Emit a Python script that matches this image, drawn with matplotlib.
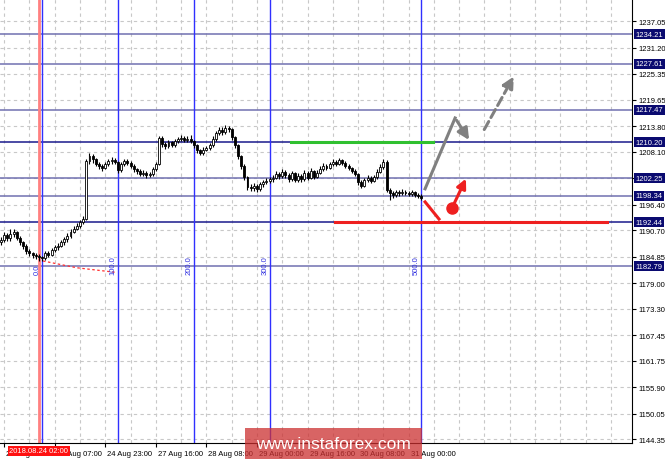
import matplotlib
matplotlib.use("Agg")
import matplotlib.pyplot as plt
from matplotlib.patches import Rectangle, FancyArrowPatch
from matplotlib.transforms import ScaledTranslation

plt.rcParams["font.family"] = ["Liberation Sans", "DejaVu Sans"]

# H1 candles, 23 Aug - 31 Aug 2018
closes = [1188.5, 1189.6, 1188.9, 1189.9, 1190.3, 1189.0, 1188.0, 1187.2, 1186.1, 1185.6,
          1185.3, 1185.1, 1184.7, 1184.5, 1185.7, 1185.3, 1186.4, 1186.9, 1187.3, 1188.0,
          1188.7, 1189.4, 1190.4, 1191.1, 1191.7, 1192.5, 1193.3, 1206.0, 1207.2, 1206.4,
          1205.5, 1205.0, 1204.6, 1205.3, 1206.0, 1206.3, 1205.8, 1204.0, 1205.3, 1206.1,
          1205.6, 1205.0, 1204.2, 1203.8, 1203.2, 1203.5, 1202.9, 1203.1, 1204.2, 1205.4,
          1211.2, 1209.8, 1209.3, 1210.2, 1209.6, 1210.4, 1210.9, 1211.2, 1210.7, 1211.0,
          1210.5, 1209.5, 1208.4, 1207.8, 1208.6, 1208.9, 1209.6, 1211.0, 1212.2, 1213.0,
          1212.5, 1213.4, 1213.1, 1211.3, 1209.5, 1207.2, 1205.0, 1202.5, 1200.3, 1200.0,
          1200.6, 1199.8, 1200.9, 1201.3, 1201.6, 1202.0, 1202.4, 1203.2, 1202.7, 1203.6,
          1203.0, 1202.1, 1203.3, 1201.9, 1202.8, 1202.0, 1203.5, 1202.4, 1203.8, 1202.6,
          1203.5, 1204.3, 1205.0, 1204.6, 1205.4, 1205.9, 1205.5, 1206.2, 1205.7, 1205.0,
          1204.5, 1203.9, 1203.2, 1201.4, 1200.6, 1201.8, 1202.4, 1201.7, 1202.5, 1203.7,
          1204.8, 1205.8, 1199.6, 1199.0, 1198.5, 1199.2, 1198.9, 1199.3, 1199.0, 1198.8,
          1199.1, 1198.6, 1198.4, 1197.9]
opens = [1188.0] + closes[:-1]
highs = [1189.2, 1190.4, 1190.0, 1191.0, 1190.9, 1190.6, 1189.4, 1188.4, 1187.6, 1186.5,
         1186.0, 1185.7, 1185.5, 1185.0, 1186.1, 1186.2, 1186.8, 1187.4, 1187.9, 1188.5,
         1189.2, 1190.0, 1190.9, 1191.6, 1192.3, 1193.0, 1193.9, 1206.6, 1207.9, 1207.6,
         1206.8, 1205.9, 1205.4, 1205.8, 1206.5, 1206.9, 1206.7, 1206.1, 1205.8, 1206.6,
         1206.5, 1206.0, 1205.4, 1204.6, 1204.2, 1204.0, 1203.9, 1203.6, 1204.7, 1205.9,
         1211.7, 1211.5, 1210.3, 1210.7, 1210.6, 1210.9, 1211.4, 1211.8, 1211.5, 1211.6,
         1211.9, 1210.8, 1209.8, 1208.8, 1209.1, 1209.4, 1210.1, 1211.5, 1212.8, 1213.6,
         1213.5, 1214.1, 1213.9, 1213.4, 1211.6, 1209.8, 1207.5, 1205.3, 1202.8, 1200.9,
         1201.1, 1201.0, 1201.4, 1201.8, 1202.2, 1202.6, 1203.0, 1203.8, 1203.6, 1204.2,
         1204.0, 1203.4, 1203.8, 1203.6, 1203.3, 1203.2, 1204.0, 1203.9, 1204.6, 1204.1,
         1204.0, 1204.9, 1205.6, 1205.4, 1205.9, 1206.4, 1206.3, 1206.7, 1206.5, 1206.0,
         1205.4, 1204.8, 1204.3, 1203.5, 1201.8, 1202.3, 1202.9, 1202.8, 1203.0, 1204.2,
         1205.4, 1206.6, 1206.2, 1200.0, 1199.4, 1199.7, 1199.6, 1199.8, 1199.7, 1199.4,
         1199.6, 1199.4, 1199.0, 1198.7]
lows = [1187.4, 1188.1, 1188.3, 1188.4, 1189.3, 1188.5, 1187.5, 1186.6, 1185.5, 1184.9,
        1184.6, 1184.3, 1184.0, 1183.8, 1184.2, 1184.8, 1185.0, 1185.9, 1186.4, 1186.9,
        1187.5, 1188.2, 1189.0, 1190.0, 1190.7, 1191.3, 1192.1, 1193.0, 1205.4, 1205.7,
        1204.9, 1204.3, 1203.9, 1204.2, 1204.9, 1205.5, 1205.3, 1203.5, 1203.7, 1204.9,
        1205.1, 1204.5, 1203.7, 1203.2, 1202.7, 1202.8, 1202.4, 1202.5, 1202.8, 1203.9,
        1205.1, 1209.2, 1208.7, 1208.9, 1209.1, 1209.2, 1210.0, 1210.5, 1210.2, 1210.3,
        1210.1, 1209.0, 1207.9, 1207.3, 1207.4, 1208.2, 1208.5, 1209.2, 1210.6, 1211.8,
        1211.9, 1212.1, 1212.5, 1210.8, 1209.0, 1206.6, 1204.4, 1201.9, 1199.6, 1199.4,
        1199.5, 1199.3, 1199.5, 1200.4, 1200.9, 1201.2, 1201.5, 1202.0, 1202.1, 1202.3,
        1202.4, 1201.5, 1201.7, 1201.3, 1201.4, 1201.5, 1201.6, 1201.9, 1202.0, 1202.1,
        1202.2, 1203.1, 1203.9, 1204.1, 1204.2, 1205.0, 1205.0, 1205.1, 1205.2, 1204.5,
        1204.0, 1203.4, 1202.7, 1200.8, 1200.0, 1200.3, 1201.3, 1201.2, 1201.3, 1202.1,
        1203.3, 1204.4, 1199.1, 1197.4, 1197.9, 1198.1, 1198.4, 1198.5, 1198.5, 1198.3,
        1198.4, 1198.1, 1197.9, 1197.4]

# price axis
tick_levels = [1237.05, 1231.20, 1225.35, 1219.65, 1213.80, 1208.10, 1202.25, 1196.40,
               1190.70, 1184.85, 1179.00, 1173.30, 1167.45, 1161.75, 1155.90, 1150.05, 1144.35]
# horizontal levels drawn on the chart
levels = [1234.21, 1227.61, 1217.47, 1210.20, 1202.25, 1198.34, 1192.44, 1182.79]
dark_levels = [1210.20, 1192.44]

# time axis
time_ticks = [1, 17, 33, 49, 65, 81, 97, 113, 129]
time_labels = ["23 Aug 15:00", "24 Aug 07:00", "24 Aug 23:00", "27 Aug 16:00", "28 Aug 08:00",
               "29 Aug 00:00", "29 Aug 16:00", "30 Aug 08:00", "31 Aug 00:00"]

# fibonacci time zones
fib_base = 13
fib_levels = [0, 100, 200, 300, 500]

FS = 5.5

fig = plt.figure(figsize=(6.65, 4.60), dpi=100)
fig.patch.set_facecolor("white")
ax = fig.add_axes([0, 16 / 460, 632 / 665, 444 / 460])
ax.set_xlim(-0.316, 199.68)
ax.set_ylim(1143.56, 1241.97)

# dashed grid
for gx in range(1, 200, 8):
    ax.axvline(gx, color="#c8c8c8", lw=0.8, ls=(0, (3, 3)), zorder=0)
for gy in tick_levels:
    ax.axhline(gy, color="#c8c8c8", lw=0.8, ls=(0, (3, 3)), zorder=0)

# levels
for lv in levels:
    col = "#1a1a8c" if lv in dark_levels else "#7070b0"
    ax.axhline(lv, color=col, lw=1.1, zorder=1)

# fib time zones
for lv in fib_levels:
    fx = fib_base + lv * 0.24
    ax.axvline(fx, color="#3030ff", lw=1.0, zorder=1)
    ax.text(fx - 0.4, 1181.0, "%.1f" % lv, rotation=90, ha="right", va="bottom",
            fontsize=FS, color="#3030e0")
ax.axvline(12.0, color="#ff8080", lw=2.0, zorder=1)

# red dashed line from the low
ax.plot([13.3, 24.0, 36.1], [1183.9, 1182.4, 1181.4], color="#ff3030", lw=0.9,
        ls=(0, (2, 2)), zorder=1)

# candles
idx = list(range(len(closes)))
ax.vlines(idx, lows, highs, color="black", lw=0.8, zorder=3)
for i in idx:
    o, c = opens[i], closes[i]
    h = max(abs(c - o), 0.12)
    fc = "white" if c >= o else "black"
    ax.bar(i, h, bottom=min(o, c), width=0.62, facecolor=fc, edgecolor="black",
           lw=0.6, zorder=4)

# green and red horizontal segments
ax.plot([91.8, 136.7], [1210.20, 1210.20], color="#30c030", lw=2.2, zorder=2)
ax.plot([105.7, 191.8], [1192.44, 1192.44], color="#ee2020", lw=2.2, zorder=2)

# scenario arrows
gray = "#808080"
ax.plot([134.2, 143.7], [1199.9, 1215.6], color=gray, lw=2.2, zorder=5)
ax.add_patch(FancyArrowPatch((143.7, 1215.6), (148.6, 1210.2), arrowstyle="-|>",
             mutation_scale=17, color=gray, lw=2.2, zorder=5))
ax.add_patch(FancyArrowPatch((152.5, 1212.5), (162.7, 1225.35), arrowstyle="-|>",
             mutation_scale=17, color=gray, lw=2.2, ls=(0, (3, 1.5)), zorder=5))
ax.plot([134.2, 138.6], [1197.0, 1193.2], color="#ee2020", lw=2.2, zorder=5)
ax.add_patch(FancyArrowPatch((142.7, 1195.6), (147.5, 1202.7), arrowstyle="-|>",
             mutation_scale=14, color="#ee2020", lw=2.2, zorder=5))
ax.plot([142.7], [1195.6], "o", color="#ee2020", ms=8, zorder=6)

# axes styling
for s in ["left", "top"]:
    ax.spines[s].set_visible(False)
ax.spines["right"].set_color("black")
ax.spines["bottom"].set_color("black")
ax.yaxis.tick_right()
ax.set_yticks(tick_levels)
ax.set_yticklabels(["" if t == 1202.25 else "%.2f" % t for t in tick_levels],
                   fontsize=FS, color="black")
ax.tick_params(axis="y", length=3, pad=1.5)
ax.set_xticks(time_ticks)
ax.set_xticklabels(time_labels, fontsize=FS, color="black", ha="left")
ax.tick_params(axis="x", length=3, pad=2)
off = ScaledTranslation(2 / 100, 0, fig.dpi_scale_trans)
for lab in ax.get_xticklabels():
    lab.set_transform(lab.get_transform() + off)

# highlighted price labels on the right
for lv in levels:
    ax.text(1.006, lv, "%.2f" % lv, transform=ax.get_yaxis_transform(), ha="left",
            va="center", fontsize=FS, color="white", zorder=10, clip_on=False,
            bbox=dict(boxstyle="square,pad=0.2", facecolor="#0a0a70", edgecolor="none"))

# red date box on the time axis
ax.text(12.0, -0.018, "2018.08.24 02:00", transform=ax.get_xaxis_transform(), ha="center",
        va="center", fontsize=FS, color="white", clip_on=False, zorder=10,
        bbox=dict(boxstyle="square,pad=0.25", facecolor="#ff1010", edgecolor="none"))

# watermark
fig.add_artist(Rectangle((245 / 665, 0), 177 / 665, 31 / 460, transform=fig.transFigure,
                         facecolor="#cc3030", alpha=0.75, edgecolor="none", zorder=20))
fig.text(333 / 665, 15 / 460, "www.instaforex.com", ha="center", va="center",
         fontsize=12.5, color="white", zorder=21)

fig.savefig("out.png", dpi=100)
